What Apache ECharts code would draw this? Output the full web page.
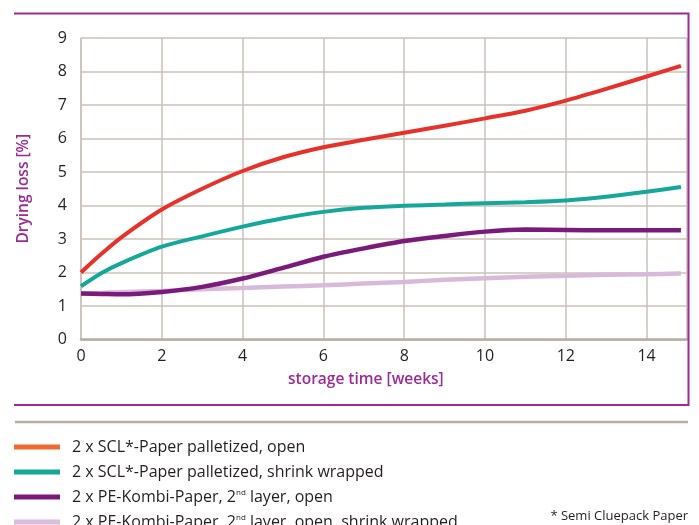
<!DOCTYPE html>
<html>
<head>
<meta charset="utf-8">
<script src="https://cdn.jsdelivr.net/npm/echarts@6/dist/echarts.min.js"></script>
<style>
html,body{margin:0;padding:0;background:#fff;}
#c{width:699px;height:525px;}
</style>
</head>
<body>
<div id="c"></div>
<script>
const weeks = [0, 0.5, 1, 2, 3, 4, 5, 6, 7, 8, 9, 10, 11, 12, 13, 14, 14.85];
const sclOpen = [2.0, 2.55, 3.05, 3.88, 4.5, 5.03, 5.44, 5.74, 5.96, 6.17, 6.38, 6.60, 6.83, 7.13, 7.48, 7.85, 8.17];
const sclShrink = [1.59, 1.98, 2.28, 2.77, 3.08, 3.37, 3.62, 3.81, 3.93, 3.99, 4.03, 4.07, 4.10, 4.15, 4.26, 4.41, 4.55];
const peOpen = [1.37, 1.36, 1.35, 1.42, 1.57, 1.82, 2.14, 2.47, 2.72, 2.94, 3.09, 3.22, 3.28, 3.27, 3.26, 3.26, 3.26];
const peShrink = [1.37, 1.39, 1.41, 1.45, 1.50, 1.54, 1.58, 1.62, 1.67, 1.72, 1.78, 1.83, 1.87, 1.90, 1.93, 1.95, 1.97];
const seriesNames = [
  '2 x SCL*-Paper palletized, open',
  '2 x SCL*-Paper palletized, shrink wrapped',
  '2 x PE-Kombi-Paper, 2nd layer, open',
  '2 x PE-Kombi-Paper, 2nd layer, open, shrink wrapped'
];
const yTicks = [0, 1, 2, 3, 4, 5, 6, 7, 8, 9];
const xTicks = [0, 2, 4, 6, 8, 10, 12, 14];

const FONT = '"Open Sans", sans-serif';
const PURPLE = '#9c2b97';
const lineColors = ['#e8312a', '#15a79a', '#7a1a7a', '#d9b9da'];
const legendColors = ['#ef6a2e', '#15a79a', '#7a1a7a', '#dcbcdc'];

function pairs(ys) { return weeks.map((w, i) => [w, ys[i]]); }

const chart = echarts.init(document.getElementById('c'), null, {renderer: 'canvas'});
const gridColor = '#cbc2b9';
function lineSeries(idx, ys, width) {
  return {
    name: seriesNames[idx], type: 'line', data: pairs(ys),
    smooth: 0.3, showSymbol: false,
    lineStyle: {color: lineColors[idx], width: width, cap: 'butt'},
    itemStyle: {color: lineColors[idx]}
  };
}
chart.setOption({
  animation: false,
  backgroundColor: '#fff',
  grid: {left: 81, right: 12, top: 38, bottom: 185.5, containLabel: false},
  xAxis: {
    type: 'value', min: 0, max: 15, interval: 2,
    axisLine: {show: true, onZero: false, lineStyle: {color: '#b7ada3', width: 2.5}},
    axisTick: {show: false},
    axisLabel: {
      margin: 9, fontSize: 16, color: '#231f20', fontFamily: FONT,
      showMaxLabel: false,
      formatter: v => (xTicks.indexOf(v) >= 0 ? String(v) : '')
    },
    splitLine: {show: true, lineStyle: {color: gridColor, width: 1.5}}
  },
  yAxis: {
    type: 'value', min: 0, max: 9, interval: 1,
    name: 'Drying loss [%]', nameLocation: 'middle', nameGap: 49,
    nameTextStyle: {color: PURPLE, fontSize: 15.5, fontWeight: 600, fontFamily: FONT},
    axisLine: {show: true, lineStyle: {color: gridColor, width: 1.5}},
    axisTick: {show: false},
    axisLabel: {
      margin: 14, fontSize: 16, color: '#231f20', fontFamily: FONT,
      formatter: v => (yTicks.indexOf(v) >= 0 ? String(v) : '')
    },
    splitLine: {show: true, lineStyle: {color: gridColor, width: 1.5}}
  },
  legend: {
    orient: 'vertical', left: 14, top: 437, height: 120, width: 600, padding: 0,
    itemWidth: 46, itemHeight: 5, itemGap: 5, icon: 'rect',
    selectedMode: false,
    formatter: n => n.replace('2nd', '2{sup|nd}'),
    textStyle: {
      fontSize: 16, color: '#231f20', fontFamily: FONT, lineHeight: 20,
      padding: [0, 0, 0, 7],
      rich: {sup: {fontSize: 8, lineHeight: 8, padding: [0, 0, 9, 0], fontFamily: FONT, color: '#231f20'}}
    },
    data: seriesNames.map((n, i) => ({name: n, itemStyle: {color: legendColors[i]}}))
  },
  series: [
    lineSeries(3, peShrink, 4.5),
    lineSeries(2, peOpen, 4.5),
    lineSeries(1, sclShrink, 4),
    lineSeries(0, sclOpen, 4)
  ],
  graphic: [
    {type: 'polyline', shape: {points: [[14, 13.5], [688.5, 13.5], [688.5, 405], [14, 405]]},
     style: {stroke: PURPLE, lineWidth: 2, fill: null}, z: 10},
    {type: 'line', shape: {x1: 15, y1: 422, x2: 688, y2: 422},
     style: {stroke: '#b7ada3', lineWidth: 2.5}, z: 10},
    {type: 'text', left: 288, top: 372,
     style: {text: 'storage time [weeks]', fill: PURPLE, font: '600 15.5px "Open Sans", sans-serif'}, z: 10},
    {type: 'text', right: 11, top: 510,
     style: {text: '* Semi Cluepack Paper', fill: '#231f20', font: '13px "Open Sans", sans-serif'}, z: 10}
  ]
});
</script>
</body>
</html>
